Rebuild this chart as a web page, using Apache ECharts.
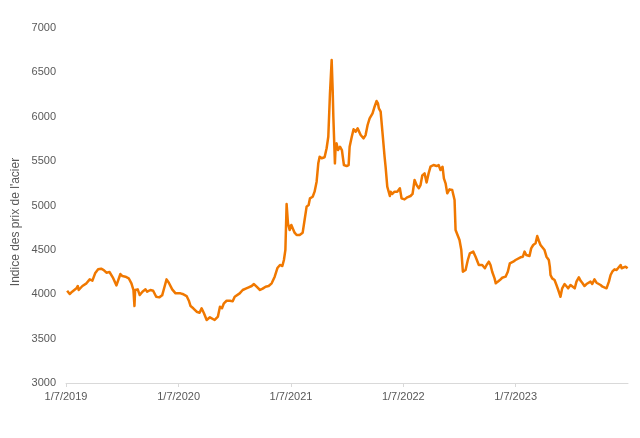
<!DOCTYPE html>
<html>
<head>
<meta charset="utf-8">
<script src="https://cdn.jsdelivr.net/npm/echarts@6/dist/echarts.min.js"></script>
<style>html,body{margin:0;padding:0;background:#fff}#c{width:640px;height:438px}</style>
</head>
<body>
<div id="c"></div>
<script>
// Time of each observation, as decimal years
var years = [
2019.506,2019.529,2019.551,2019.589,2019.601,2019.609,2019.642,2019.678,2019.707,2019.731,
2019.755,2019.782,2019.809,2019.832,2019.856,2019.883,2019.912,2019.945,2019.956,2019.980,
2019.998,2020.025,2020.054,2020.078,2020.096,2020.105,2020.111,2020.134,2020.152,2020.176,
2020.203,2020.218,2020.247,2020.271,2020.298,2020.325,2020.351,2020.372,2020.390,2020.410,
2020.440,2020.470,2020.514,2020.532,2020.568,2020.588,2020.603,2020.627,2020.657,2020.683,
2020.701,2020.722,2020.746,2020.775,2020.790,2020.817,2020.846,2020.864,2020.882,2020.899,
2020.923,2020.953,2020.977,2020.995,2021.012,2021.039,2021.066,2021.093,2021.119,2021.146,
2021.166,2021.190,2021.220,2021.244,2021.270,2021.297,2021.324,2021.351,2021.375,2021.398,
2021.419,2021.433,2021.446,2021.457,2021.469,2021.484,2021.499,2021.511,2021.528,2021.546,
2021.573,2021.600,2021.617,2021.635,2021.653,2021.665,2021.680,2021.689,2021.706,2021.724,
2021.739,2021.751,2021.769,2021.795,2021.813,2021.828,2021.843,2021.858,2021.867,2021.873,
2021.887,2021.893,2021.902,2021.914,2021.932,2021.949,2021.967,2021.991,2022.009,2022.018,
2022.036,2022.053,2022.071,2022.089,2022.116,2022.142,2022.160,2022.178,2022.196,2022.222,
2022.240,2022.258,2022.270,2022.278,2022.294,2022.311,2022.329,2022.338,2022.353,2022.376,
2022.383,2022.398,2022.418,2022.442,2022.465,2022.480,2022.507,2022.531,2022.560,2022.578,
2022.596,2022.614,2022.634,2022.649,2022.665,2022.685,2022.703,2022.721,2022.738,2022.765,
2022.792,2022.810,2022.827,2022.845,2022.857,2022.872,2022.887,2022.907,2022.931,2022.952,
2022.961,2022.976,2022.996,2023.012,2023.026,2023.050,2023.070,2023.088,2023.103,2023.118,
2023.139,2023.154,2023.168,2023.183,2023.198,2023.222,2023.237,2023.257,2023.272,2023.287,
2023.308,2023.319,2023.337,2023.355,2023.376,2023.391,2023.406,2023.426,2023.444,2023.456,
2023.474,2023.495,2023.512,2023.539,2023.560,2023.575,2023.590,2023.619,2023.634,2023.652,
2023.673,2023.688,2023.702,2023.717,2023.732,2023.753,2023.770,2023.791,2023.800,2023.806,
2023.821,2023.842,2023.859,2023.875,2023.895,2023.910,2023.931,2023.948,2023.963,2023.984,
2023.999,2024.022,2024.037,2024.058,2024.073,2024.088,2024.108,2024.126,2024.141,2024.162,
2024.177,2024.197,2024.215,2024.230,2024.251,2024.269,2024.286,2024.304,2024.325,2024.340,
2024.355,2024.375,2024.393,2024.408,2024.429,2024.438,2024.453,2024.473,2024.491
];
// Steel price index values
var steelIndex = [
4040,4003,4029,4067,4093,4048,4093,4123,4168,4153,
4236,4281,4288,4273,4243,4251,4191,4100,4085,4228,
4205,4198,4180,4123,4048,3867,4048,4055,3991,4029,
4055,4029,4048,4040,3972,3965,3988,4085,4168,4130,
4055,4010,4010,4003,3980,3927,3867,3842,3803,3792,
3842,3785,3710,3740,3718,3710,3748,3860,3842,3898,
3927,3927,3920,3972,3991,4010,4048,4063,4078,4093,
4115,4085,4048,4063,4085,4093,4123,4198,4295,4330,
4318,4386,4498,5017,4799,4724,4780,4761,4694,4668,
4668,4694,4837,4987,5006,5081,5062,5099,5156,5268,
5475,5550,5532,5543,5645,5775,6264,6640,6302,6001,
5475,5662,5700,5625,5662,5625,5456,5445,5456,5662,
5768,5860,5831,5869,5794,5757,5794,5907,5982,6039,
6113,6177,6151,6095,6057,5813,5550,5437,5212,5107,
5156,5130,5156,5156,5194,5081,5069,5092,5107,5130,
5287,5231,5194,5230,5340,5362,5260,5362,5437,5456,
5445,5456,5400,5437,5306,5250,5137,5182,5175,5062,
4724,4743,4611,4498,4254,4273,4386,4461,4442,4480,
4423,4405,4330,4311,4330,4293,4330,4367,4330,4254,
4179,4123,4142,4160,4186,4179,4198,4254,4348,4330,
4367,4386,4386,4416,4423,4480,4442,4431,4517,4555,
4574,4656,4603,4555,4566,4498,4423,4386,4311,4217,
4179,4160,4104,4048,3972,4067,4115,4130,4067,4104,
4085,4067,4142,4191,4153,4130,4093,4115,4123,4142,
4115,4168,4130,4115,4104,4085,4104,4067,4142,4217,
4254,4281,4273,4293,4330,4293,4293,4311,4293
];
var xTickDates = ['2019-07-01','2020-07-01','2021-07-01','2022-07-01','2023-07-01'];
var xRange = ['2019-07-01', '2024-06-30'];
var yAxisTitle = "Indice des prix de l'acier";

function decYearToTs(t) {
  var Y = Math.floor(t);
  var a = Date.UTC(Y, 0, 1), b = Date.UTC(Y + 1, 0, 1);
  return a + (t - Y) * (b - a);
}
function dateToTs(d) { var p = d.split('-'); return Date.UTC(+p[0], +p[1] - 1, +p[2]); }
var seriesData = years.map(function (t, i) { return [decYearToTs(t), steelIndex[i]]; });
var tickTs = xTickDates.map(dateToTs);

var chart = echarts.init(document.getElementById('c'), null, { renderer: 'canvas' });
var font = 'Liberation Sans, Arial, sans-serif';
chart.setOption({
  animation: false,
  backgroundColor: '#ffffff',
  grid: { left: 66, right: 12, top: 28, bottom: 55, containLabel: false },
  xAxis: {
    type: 'value',
    min: dateToTs(xRange[0]),
    max: dateToTs(xRange[1]),
    axisLine: { show: true, lineStyle: { color: '#d9d9d9', width: 1 } },
    axisTick: { show: true, customValues: tickTs, length: 4, lineStyle: { color: '#d9d9d9' } },
    splitLine: { show: false },
    axisLabel: {
      customValues: tickTs,
      color: '#595959', fontSize: 11, fontFamily: font, margin: 8,
      formatter: function (v) {
        var d = new Date(v);
        return d.getUTCDate() + '/' + (d.getUTCMonth() + 1) + '/' + d.getUTCFullYear();
      }
    }
  },
  yAxis: {
    type: 'value',
    min: 3000, max: 7000, interval: 500,
    axisLine: { show: false },
    axisTick: { show: false },
    splitLine: { show: false },
    axisLabel: {
      color: '#595959', fontSize: 11, fontFamily: font, margin: 10,
      formatter: function (v) { return String(v); }
    }
  },
  graphic: [{
    type: 'text',
    x: 16, y: 222,
    rotation: Math.PI / 2,
    style: {
      text: yAxisTitle, fill: '#595959', font: '12px ' + font,
      align: 'center', verticalAlign: 'middle'
    }
  }],
  series: [{
    type: 'line',
    data: seriesData,
    showSymbol: false,
    smooth: false,
    lineStyle: { color: '#f07800', width: 2.5, join: 'round' },
    itemStyle: { color: '#f07800' }
  }]
});
</script>
</body>
</html>
